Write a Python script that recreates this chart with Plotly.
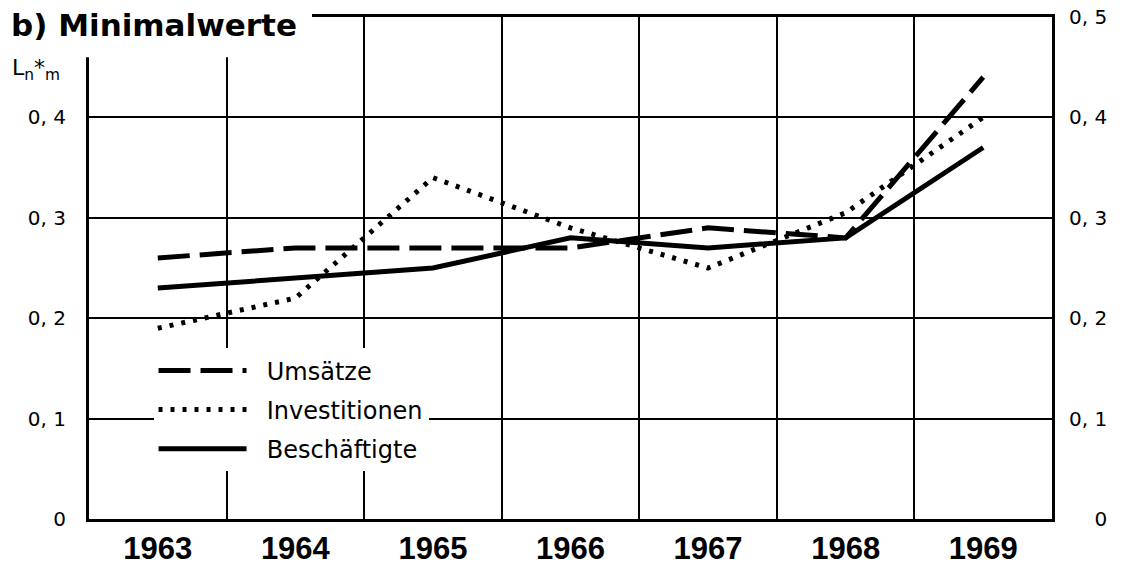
import plotly.graph_objects as go

years = [1963, 1964, 1965, 1966, 1967, 1968, 1969]
umsaetze = [0.26, 0.27, 0.27, 0.27, 0.29, 0.28, 0.44]
investitionen = [0.19, 0.22, 0.34, 0.29, 0.25, 0.305, 0.40]
beschaeftigte = [0.23, 0.24, 0.25, 0.28, 0.27, 0.28, 0.37]

left_ticks = [0, 0.1, 0.2, 0.3, 0.4]
left_text = ["0", "0, 1", "0, 2", "0, 3", "0, 4"]
right_ticks = [0, 0.1, 0.2, 0.3, 0.4, 0.5]
right_text = ["\u00a0\u00a0\u00a0\u00a00", "0, 1", "0, 2", "0, 3", "0, 4", "0, 5"]
year_bounds = [1963.5, 1964.5, 1965.5, 1966.5, 1967.5, 1968.5]

pad = "\u00a0\u00a0"

fig = go.Figure()
fig.add_trace(go.Scatter(x=years, y=umsaetze, name=pad + "Umsätze", mode="lines", legendgroup="a",
                         line=dict(color="black", width=5, dash="32px,10px")))
fig.add_trace(go.Scatter(x=years, y=investitionen, name=pad + "Investitionen", mode="lines", legendgroup="b",
                         line=dict(color="black", width=5, dash="4px,8px")))
fig.add_trace(go.Scatter(x=years, y=beschaeftigte, name=pad + "Beschäftigte", mode="lines", legendgroup="c",
                         line=dict(color="black", width=5)))
# invisible copy so the right-hand axis gets drawn
fig.add_trace(go.Scatter(x=years, y=beschaeftigte, yaxis="y2", mode="lines", showlegend=False,
                         hoverinfo="skip", opacity=0, line=dict(width=0)))

fig.update_layout(
    width=1123, height=566,
    margin=dict(l=81, r=79, t=9, b=55),  # page body adds 8px on left/top
    plot_bgcolor="white", paper_bgcolor="white",
    font=dict(family="DejaVu Sans", color="black"),
    showlegend=True,
    legend=dict(x=0.067, y=0.34, xanchor="left", yanchor="top", bgcolor="white",
                font=dict(size=24, family="DejaVu Sans"), itemwidth=88,
                tracegroupgap=5, traceorder="grouped"),
    xaxis=dict(range=[1962.5, 1969.5], tickvals=years, ticktext=[str(y) for y in years],
               showgrid=False, showline=True, linewidth=3, linecolor="black", mirror=True,
               automargin=False, ticks="",
               tickfont=dict(family="Liberation Sans", size=31, weight="bold"),
               minor=dict(tickvals=year_bounds, showgrid=True, gridcolor="black", gridwidth=1.5, ticks="")),
    yaxis=dict(range=[0, 0.5], tickvals=left_ticks, ticktext=left_text,
               showgrid=True, gridcolor="black", gridwidth=1.5, zeroline=False,
               showline=True, linewidth=3, linecolor="black", mirror=True,
               automargin=False,
               ticks="outside", ticklen=16, tickcolor="rgba(0,0,0,0)",
               tickfont=dict(size=20)),
    yaxis2=dict(range=[0, 0.5], overlaying="y", side="right", anchor="x",
                tickvals=right_ticks, ticktext=right_text, showgrid=False, zeroline=False,
                automargin=False, ticklabeloverflow="allow",
                ticks="outside", ticklen=12, tickcolor="rgba(0,0,0,0)",
                tickfont=dict(size=20)),
)

# white mask behind the title, like in the original figure
fig.add_shape(type="rect", xref="paper", yref="paper", x0=-0.1, x1=0.2316, y0=0.92, y1=1.04,
              fillcolor="white", line=dict(width=0), layer="above")

fig.add_annotation(text="b) Minimalwerte", xref="paper", yref="paper", x=-0.083, y=0.985,
                   xanchor="left", yanchor="middle", showarrow=False,
                   font=dict(size=31, family="DejaVu Sans", weight="bold"))
fig.add_annotation(text="L<sub>n</sub>*<sub>m</sub>", xref="paper", yref="paper", x=-0.082, y=0.895,
                   xanchor="left", yanchor="middle", showarrow=False,
                   font=dict(size=22, family="DejaVu Sans"))

fig.write_html("out.html")
